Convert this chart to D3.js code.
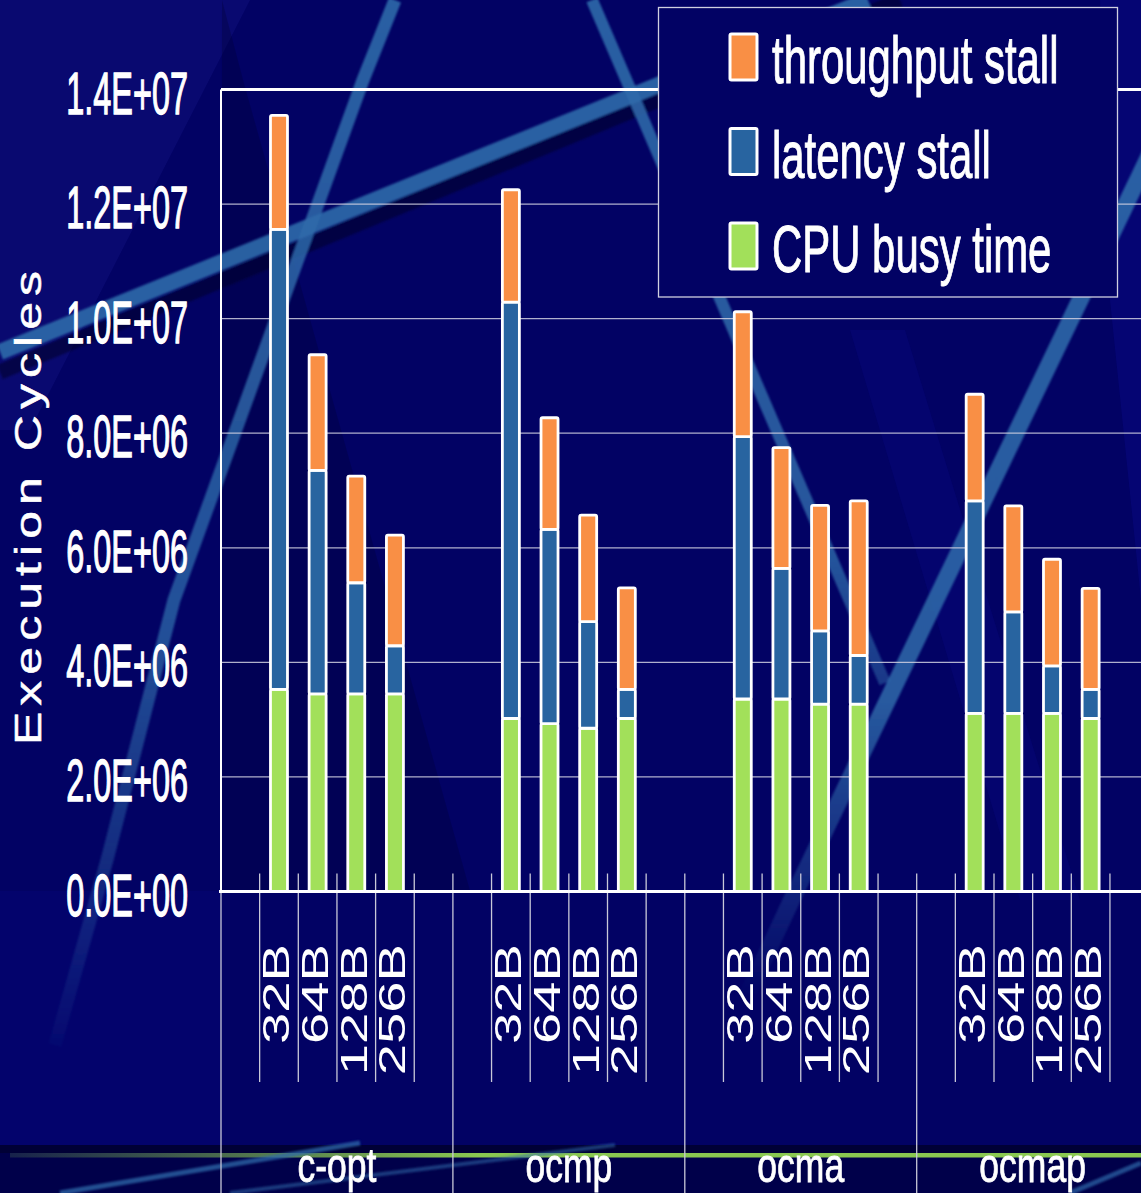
<!DOCTYPE html>
<html>
<head>
<meta charset="utf-8">
<script src="https://cdn.jsdelivr.net/npm/d3@7"></script>
<style>
  html, body { margin: 0; padding: 0; background: #020264; }
  svg { display: block; }
  text { font-family: "Liberation Sans", Arial, sans-serif; fill: #ffffff; }
</style>
</head>
<body>
<svg id="chart" width="1141" height="1193"></svg>
<script>
// Benchmark groups and cache line sizes along the category axis
const groups = ["c-opt", "ocmp", "ocma", "ocmap"];
const lineSizes = ["32B", "64B", "128B", "256B"];

// Execution cycles per bar, in group order (4 line sizes per group)
const cpuBusy = [3.53e6, 3.45e6, 3.45e6, 3.45e6,
                 3.02e6, 2.93e6, 2.85e6, 3.02e6,
                 3.36e6, 3.36e6, 3.27e6, 3.27e6,
                 3.11e6, 3.11e6, 3.11e6, 3.02e6];
const latencyStall = [8.03e6, 3.90e6, 1.94e6, 0.84e6,
                      7.27e6, 3.39e6, 1.86e6, 0.51e6,
                      4.58e6, 2.28e6, 1.28e6, 0.85e6,
                      3.71e6, 1.77e6, 0.83e6, 0.51e6];
const throughputStall = [1.99e6, 2.02e6, 1.86e6, 1.93e6,
                         1.96e6, 1.95e6, 1.86e6, 1.77e6,
                         2.18e6, 2.11e6, 2.19e6, 2.70e6,
                         1.86e6, 1.85e6, 1.86e6, 1.76e6];

// Value axis ticks
const yTicks = [0, 2e6, 4e6, 6e6, 8e6, 1e7, 1.2e7, 1.4e7];

// Series (legend order, top to bottom)
const seriesNames = ["throughput stall", "latency stall", "CPU busy time"];
const seriesKeys = ["throughput", "latency", "busy"];
const seriesColors = ["#f98f45", "#2864a0", "#a2e05a"];

const svg = d3.select("#chart");
const W = 1141, H = 1193;
const plotLeft = 221, plotTop = 89.5, plotBottom = 891.5;
const slotsPerGroup = 6;              // empty slot on each side of a group
const slotW = 38.65;
const plotRight = plotLeft + groups.length * slotsPerGroup * slotW;

const x = d3.scaleBand()
  .domain(d3.range(groups.length * slotsPerGroup))
  .range([plotLeft, plotRight])
  .paddingInner(0).paddingOuter(0);
const y = d3.scaleLinear().domain([0, 1.4e7]).range([plotBottom, plotTop]);

const colorOf = d3.scaleOrdinal().domain(seriesKeys).range(seriesColors);

// rows for stacking
const rows = [];
groups.forEach((g, gi) => {
  lineSizes.forEach((s, si) => {
    const i = gi * lineSizes.length + si;
    rows.push({
      group: g, size: s, slot: gi * slotsPerGroup + 1 + si,
      busy: cpuBusy[i], latency: latencyStall[i], throughput: throughputStall[i]
    });
  });
});
const stacked = d3.stack().keys(["busy", "latency", "throughput"])(rows);

const defs = svg.append("defs");
const soft = defs.append("filter").attr("id", "soft")
  .attr("x", "-10%").attr("y", "-10%").attr("width", "120%").attr("height", "120%");
soft.append("feGaussianBlur").attr("stdDeviation", 0.8);

function fadeGradient(id, y0, y1, stops) {
  const g = defs.append("linearGradient").attr("id", id)
    .attr("gradientUnits", "userSpaceOnUse")
    .attr("x1", 0).attr("x2", 0).attr("y1", y0).attr("y2", y1);
  stops.forEach(([o, c, a]) => g.append("stop").attr("offset", o)
    .attr("stop-color", c).attr("stop-opacity", a));
  return `url(#${id})`;
}

// ---------- background ----------
const bg = svg.append("g");
bg.append("rect").attr("width", W).attr("height", H).attr("fill", "#020264");
// soft lighter and darker planes
bg.append("path").attr("d", "M0,0 L250,0 L30,430 L0,430 Z")
  .attr("fill", "#1a1a90").attr("opacity", 0.3);
bg.append("path").attr("d", "M222,0 L243,80 L470,891 L221,891 Z")
  .attr("fill", "#000030").attr("opacity", 0.28);
bg.append("path").attr("d", "M850,330 L905,330 L1080,900 L1020,900 Z")
  .attr("fill", "#0a0a8a").attr("opacity", 0.25);
bg.append("path").attr("d", "M1100,0 L1141,0 L1141,600 L1110,300 Z")
  .attr("fill", "#0a0a8a").attr("opacity", 0.4);
bg.append("path").attr("d", "M0,891 L221,891 L221,1145 L0,1145 Z")
  .attr("fill", "#06067a").attr("opacity", 0.35);

const streakColor = "#2e6aaa";
const streaks = bg.append("g").attr("filter", "url(#soft)").attr("fill", "none")
  .attr("stroke-linecap", "butt");
// dark shadow under the long rising band
streaks.append("path").attr("d", "M0,372 L900,0")
  .attr("stroke", "#00002e").attr("stroke-width", 15).attr("opacity", 0.6);
streaks.append("path").attr("d", "M0,352 L868,0")
  .attr("stroke", streakColor).attr("stroke-width", 16).attr("opacity", 0.9);
streaks.append("path").attr("d", "M395,0 L363,80 L174,600 L107,860 L55,1045")
  .attr("stroke", fadeGradient("fadeA", 0, 1050,
    [[0, streakColor, 0.9], [0.6, streakColor, 0.75], [0.85, streakColor, 0.35], [1, streakColor, 0.05]]))
  .attr("stroke-width", 13);
streaks.append("path").attr("d", "M592,0 L885,683")
  .attr("stroke", fadeGradient("fadeB", 0, 690,
    [[0, streakColor, 0.9], [0.8, streakColor, 0.8], [1, streakColor, 0.5]]))
  .attr("stroke-width", 12);
streaks.append("path").attr("d", "M1224,0 L1080,300 L793,897 L745,1000")
  .attr("stroke", fadeGradient("fadeC", 0, 1000,
    [[0, streakColor, 0.9], [0.7, streakColor, 0.85], [0.88, streakColor, 0.35], [1, streakColor, 0]]))
  .attr("stroke-width", 17);

// bottom band with green rule
bg.append("rect").attr("x", 0).attr("y", 1145).attr("width", W).attr("height", 48)
  .attr("fill", "#00004a");
bg.append("rect").attr("x", 0).attr("y", 1145).attr("width", W).attr("height", 8)
  .attr("fill", "#000036");
const greenGrad = defs.append("linearGradient").attr("id", "greenRule")
  .attr("gradientUnits", "userSpaceOnUse").attr("x1", 0).attr("x2", W).attr("y1", 0).attr("y2", 0);
greenGrad.append("stop").attr("offset", 0).attr("stop-color", "#8ac850").attr("stop-opacity", 0.15);
greenGrad.append("stop").attr("offset", 0.2).attr("stop-color", "#8ac850").attr("stop-opacity", 0.55);
greenGrad.append("stop").attr("offset", 0.42).attr("stop-color", "#8ac850").attr("stop-opacity", 1);
greenGrad.append("stop").attr("offset", 1).attr("stop-color", "#8ac850").attr("stop-opacity", 1);
bg.append("rect").attr("x", 10).attr("y", 1153).attr("width", W - 10).attr("height", 4.5)
  .attr("fill", "url(#greenRule)");
const thin = bg.append("g").attr("filter", "url(#soft)").attr("fill", "none");
thin.append("path").attr("d", "M60,1193 L360,1143")
  .attr("stroke", streakColor).attr("stroke-width", 5).attr("opacity", 0.75);
thin.append("path").attr("d", "M230,1193 L615,1145")
  .attr("stroke", streakColor).attr("stroke-width", 4).attr("opacity", 0.55);
thin.append("path").attr("d", "M1070,1193 L1141,1163")
  .attr("stroke", streakColor).attr("stroke-width", 5).attr("opacity", 0.7);

// ---------- gridlines ----------
svg.append("g").selectAll("line").data(yTicks.filter(v => v > 0 && v < 1.4e7)).join("line")
  .attr("x1", plotLeft).attr("x2", plotRight)
  .attr("y1", d => y(d)).attr("y2", d => y(d))
  .attr("stroke", "#d0d0e0").attr("stroke-opacity", 0.85).attr("stroke-width", 1.2);

// ---------- category ticks and separators ----------
const boundaries = d3.range(groups.length * slotsPerGroup + 1);
const tickG = svg.append("g").attr("stroke", "#c8c8d8").attr("stroke-width", 1.3);
tickG.selectAll("line.up").data(boundaries).join("line").attr("class", "up")
  .attr("x1", d => plotLeft + d * x.bandwidth()).attr("x2", d => plotLeft + d * x.bandwidth())
  .attr("y1", plotBottom - 18).attr("y2", plotBottom);
tickG.selectAll("line.down").data(boundaries).join("line").attr("class", "down")
  .attr("x1", d => plotLeft + d * x.bandwidth()).attr("x2", d => plotLeft + d * x.bandwidth())
  .attr("y1", plotBottom)
  .attr("y2", d => (d % slotsPerGroup === 0) ? H : 1082);

// ---------- bars ----------
const barW = 17;
svg.append("g").selectAll("g").data(stacked).join("g")
  .attr("fill", d => colorOf(d.key))
  .selectAll("rect").data(d => d).join("rect")
  .attr("x", d => x(d.data.slot) + x.bandwidth() / 2 - barW / 2)
  .attr("width", barW)
  .attr("y", d => y(d[1]))
  .attr("height", d => y(d[0]) - y(d[1]))
  .attr("rx", 1.5)
  .attr("stroke", "#ffffff").attr("stroke-width", 2.8);

// ---------- plot frame ----------
svg.append("line").attr("x1", plotLeft).attr("x2", plotRight)
  .attr("y1", plotTop).attr("y2", plotTop).attr("stroke", "#fff").attr("stroke-width", 3);
svg.append("line").attr("x1", plotLeft).attr("x2", plotLeft)
  .attr("y1", plotTop).attr("y2", plotBottom).attr("stroke", "#fff").attr("stroke-width", 2);
svg.append("line").attr("x1", plotLeft - 2).attr("x2", plotRight)
  .attr("y1", plotBottom).attr("y2", plotBottom).attr("stroke", "#fff").attr("stroke-width", 3.2);

// ---------- value axis labels ----------
function sci(v) {
  const [m, e] = v.toExponential(1).toUpperCase().split("E");
  const sign = e[0] === "-" ? "-" : "+";
  const ex = Math.abs(+e).toString().padStart(2, "0");
  return `${m}E${sign}${ex}`;
}
svg.append("g").selectAll("g").data(yTicks).join("g")
  .attr("transform", d => `translate(188,${y(d) + 24})`)
  .append("text")
  .attr("transform", "scale(0.55,1)")
  .attr("text-anchor", "end")
  .attr("font-size", 59)
  .attr("stroke", "#fff").attr("stroke-width", 1.3)
  .text(d => sci(d));

// axis title
svg.append("text")
  .attr("transform", "translate(41,505) rotate(-90) scale(1.35,1)")
  .attr("text-anchor", "middle")
  .attr("font-size", 37)
  .attr("letter-spacing", 4.5)
  .attr("stroke", "#fff").attr("stroke-width", 0.5)
  .text("Execution Cycles");

// ---------- category labels ----------
svg.append("g").selectAll("text").data(rows).join("text")
  .attr("transform", d => `translate(${x(d.slot) + x.bandwidth() / 2 + 10.5},944) rotate(-90) scale(1.5,1)`)
  .attr("text-anchor", "end")
  .attr("font-size", 37.5)
  .text(d => d.size);

svg.append("g").selectAll("g").data(groups).join("g")
  .attr("transform", (d, i) => `translate(${plotLeft + (i + 0.5) * slotsPerGroup * x.bandwidth()},1182)`)
  .append("text")
  .attr("transform", "scale(0.74,1)")
  .attr("text-anchor", "middle")
  .attr("font-size", 48)
  .attr("stroke", "#fff").attr("stroke-width", 0.8)
  .text(d => d);

// ---------- legend ----------
const legend = svg.append("g");
legend.append("rect").attr("x", 658.5).attr("y", 7.5).attr("width", 459).attr("height", 289.5)
  .attr("fill", "#020264").attr("stroke", "#d0d0e0").attr("stroke-width", 1.3);
const item = legend.selectAll("g").data(seriesNames).join("g")
  .attr("transform", (d, i) => `translate(730,${34 + i * 94.5})`);
item.append("rect").attr("width", 27).attr("height", 46).attr("rx", 1.5)
  .attr("fill", (d, i) => seriesColors[i]).attr("stroke", "#fff").attr("stroke-width", 3);
item.append("g").attr("transform", "translate(42,49)")
  .append("text").attr("transform", "scale(0.635,1)")
  .attr("font-size", 66)
  .attr("stroke", "#fff").attr("stroke-width", 1)
  .text(d => d);
</script>
</body>
</html>
